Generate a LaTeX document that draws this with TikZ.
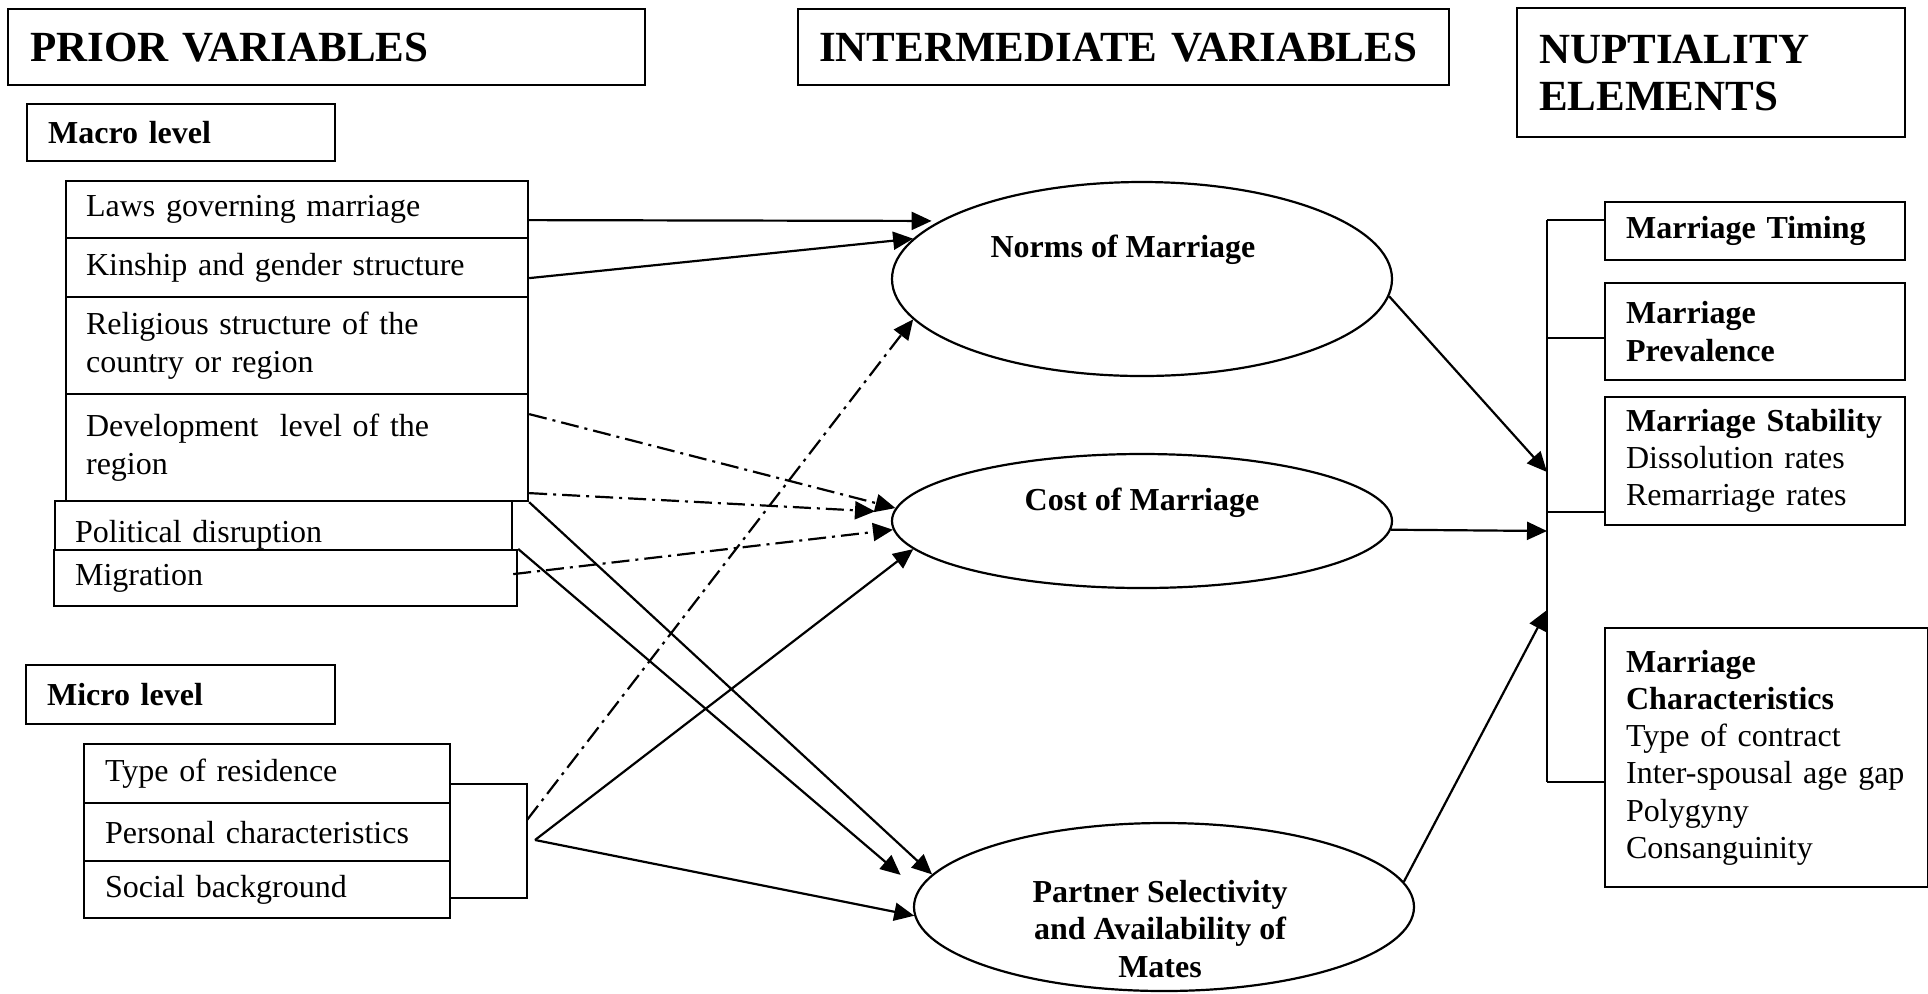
\documentclass[tikz,border=0pt]{standalone}
\usepackage{fontspec}
\setmainfont{Liberation Serif}
\usetikzlibrary{shapes.geometric,arrows.meta,calc}
\begin{document}
\begin{tikzpicture}[x=0.5pt,y=-0.5pt,line width=1.1pt,
  box/.style={draw,rectangle,anchor=north west,inner ysep=0pt,inner xsep=10.5pt,align=left,font=\fontsize{16}{18.6}\selectfont},
  head/.style={box,inner xsep=11pt,font=\fontsize{21.5}{23.5}\selectfont\bfseries},
  oval/.style={draw,ellipse,inner sep=0pt,minimum width=250pt},
  ovaltxt/.style={align=center,font=\fontsize{16}{18.6}\selectfont\bfseries},
  arr/.style={-{Triangle[length=10pt,width=9pt]}},
  dashdot/.style={arr,dash pattern=on 9pt off 3pt on 1.5pt off 3pt}]
\useasboundingbox (0,0) rectangle (1928,993);

\node[head,text width=296.5pt,minimum height=38pt] (prior) at (7,8) {PRIOR VARIABLES};
\node[head,inner xsep=10.5pt,text width=304.5pt,minimum height=38pt] (inter) at (797,8) {INTERMEDIATE VARIABLES};
\node[head,text width=172pt,minimum height=64.5pt] (nupt) at (1516,7) {NUPTIALITY\\ELEMENTS};

\node[box,font=\fontsize{16}{18.6}\selectfont\bfseries,text width=133pt,minimum height=28.5pt] (macro) at (26,103) {Macro level};
\node[box,inner xsep=10pt,text width=211pt,minimum height=28.5pt] (laws) at (65,180) {Laws governing marriage};
\node[box,inner xsep=10pt,text width=211pt,minimum height=29.5pt] (kin) at (65,237) {Kinship and gender structure};
\node[box,inner xsep=10pt,text width=211pt,minimum height=48.5pt] (rel) at (65,296) {Religious structure of the\\country or region};
\node[box,inner xsep=10pt,text width=211pt,minimum height=53.5pt] (dev) at (65,393) {Development\ \ level of the\\region};
\node[box,inner xsep=10pt,text width=208.5pt,minimum height=24.5pt,text height=16.5pt,text depth=0pt] (pol) at (54,500) {Political disruption};
\node[box,text width=210.5pt,minimum height=28pt] (mig) at (53,549) {Migration};

\node[box,font=\fontsize{16}{18.6}\selectfont\bfseries,text width=133.5pt,minimum height=29.5pt] (micro) at (25,664) {Micro level};
\node[box,text width=162pt,minimum height=29.5pt] (res) at (83,743) {Type of residence};
\node[box,text width=162pt,minimum height=29pt] (pers) at (83,802) {Personal characteristics};
\node[box,text width=162pt,minimum height=28.5pt] (soc) at (83,860) {Social background};

\node[oval,minimum height=97pt] (norms) at (1142,279) {};
\node[oval,minimum height=67pt] (cost) at (1142,521) {};
\node[oval,minimum height=84pt] (partner) at (1164,907) {};
\node[ovaltxt] (normst) at ($(norms.center)+(-19,-29)$) {Norms of Marriage};
\node[ovaltxt] (costt) at ($(cost.center)+(0,-18)$) {Cost of Marriage};
\node[ovaltxt] (partnert) at ($(partner.center)+(-4,22)$) {Partner Selectivity\\and Availability of\\Mates};

\node[box,text width=129pt,minimum height=29pt] (timing) at (1604,201) {\textbf{Marriage~Timing}};
\node[box,text width=129pt,minimum height=48.5pt] (prev) at (1604,282) {\textbf{Marriage}\\\textbf{Prevalence}};
\node[box,text width=129pt,minimum height=64pt] (stab) at (1604,396) {\textbf{\mbox{Marriage Stability}}\\Dissolution rates\\Remarriage rates};
\node[box,text width=140.5pt,minimum height=129.5pt] (char) at (1604,627) {\textbf{Marriage}\\\textbf{Characteristics}\\Type of contract\\\mbox{Inter-spousal age gap}\\Polygyny\\Consanguinity};

\coordinate (brk) at (527,820);
\coordinate (apex) at (535,840);
\draw ($(res.east)+(0,10.5)$) -| (brk) |- ($(soc.east)+(0,8.5)$);

\draw[arr,shorten >=4pt] ($(laws.east)+(0,10.5)$) -- (norms.164);
\draw[arr] ($(kin.east)+(0,10.5)$) -- (norms.170);
\draw[dashdot] ($(dev.east)+(0,-33.5)$) -- (cost.177);
\draw[dashdot,shorten >=9pt] ($(dev.east)+(0,45.5)$) -- (cost.178);
\draw[dashdot] ($(mig.east)+(-5,-4)$) -- (cost.182);
\draw[arr] (dev.south east) -- (partner.172);
\draw[arr,shorten >=11.5pt] (mig.north east) -- (partner.176);
\draw[dashdot] (brk) -- (norms.190);
\draw[arr] (apex) -- (cost.187);
\draw[arr] (apex) -- (partner.182);

\coordinate (top) at (1547,220);
\coordinate (bot) at (1547,782);
\coordinate (j1) at (1547,472);
\coordinate (j2) at (1547,531);
\coordinate (j3) at (1547,610);
\draw (top) -- (bot);
\draw (top) -- (top -| timing.west);
\draw ($(prev.west)+(0,6.5)$) coordinate (hp) -- (hp -| top);
\draw ($(stab.west)+(0,51)$) coordinate (hs) -- (hs -| top);
\draw (bot) -- (bot -| char.west);
\draw[arr] (norms.-4) -- (j1);
\draw[arr] (cost.-2) -- (j2);
\draw[arr] (partner.6) -- (j3);
\end{tikzpicture}
\end{document}
